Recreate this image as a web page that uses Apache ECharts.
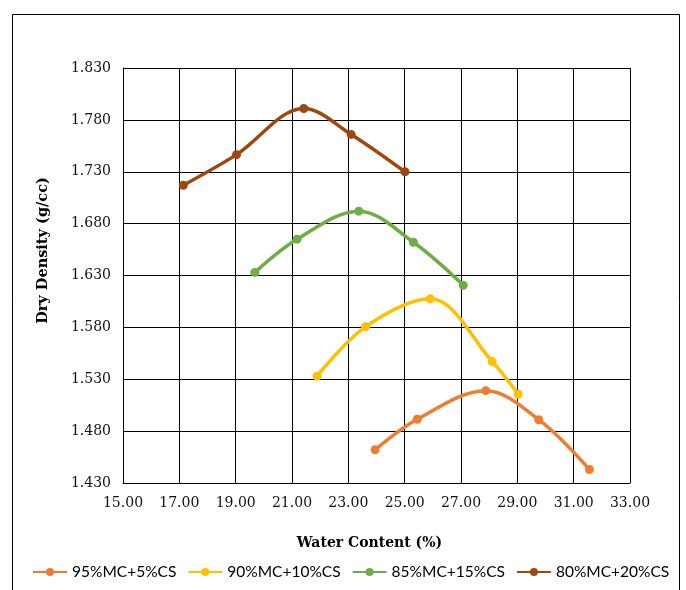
<!DOCTYPE html>
<html>
<head>
<meta charset="utf-8">
<script src="https://cdn.jsdelivr.net/npm/echarts@6/dist/echarts.min.js"></script>
<style>html,body{margin:0;padding:0;background:#fff}#c{width:686px;height:590px}</style>
</head>
<body>
<div id="c"></div>
<script>
const seriesNames = ['95%MC+5%CS', '90%MC+10%CS', '85%MC+15%CS', '80%MC+20%CS'];
const mc95x = [23.95, 25.45, 27.88, 29.76, 31.56];
const mc95y = [1.462, 1.4915, 1.519, 1.491, 1.443];
const mc90x = [21.89, 23.61, 25.91, 28.11, 29.03];
const mc90y = [1.533, 1.5805, 1.6075, 1.547, 1.5155];
const mc85x = [19.68, 21.18, 23.37, 25.31, 27.08];
const mc85y = [1.633, 1.665, 1.692, 1.662, 1.6206];
const mc80x = [17.14, 19.03, 21.42, 23.10, 25.01];
const mc80y = [1.717, 1.7465, 1.791, 1.766, 1.730];
const colors = ['#ED7D31', '#FFC000', '#70AD47', '#9E480E'];

const xs = [mc95x, mc90x, mc85x, mc80x];
const ys = [mc95y, mc90y, mc85y, mc80y];

const chart = echarts.init(document.getElementById('c'));
chart.setOption({
  animation: false,
  graphic: [{
    type: 'rect', shape: {x: 12.5, y: 14.5, width: 667, height: 600},
    style: {fill: 'none', stroke: '#000', lineWidth: 1}, silent: true, z: -10
  }],
  grid: {left: 123, right: 56, top: 68, bottom: 107},
  xAxis: {
    type: 'value', min: 15, max: 33, interval: 2,
    name: 'Water Content (%)', nameLocation: 'middle', nameGap: 53,
    nameTextStyle: {fontFamily: 'DejaVu Serif', fontWeight: 'bold', fontSize: 14, color: '#000', padding: [0, 14, 0, 0]},
    axisLine: {show: true, lineStyle: {color: '#000', width: 1}},
    axisTick: {show: false},
    splitLine: {show: true, lineStyle: {color: '#000', width: 1}},
    axisLabel: {color: '#111', fontFamily: 'DejaVu Serif', fontSize: 14, margin: 13,
      formatter: v => v.toFixed(2)}
  },
  yAxis: {
    type: 'value', min: 1.43, max: 1.83, interval: 0.05,
    name: 'Dry Density (g/cc)', nameLocation: 'middle', nameGap: 72,
    nameTextStyle: {fontFamily: 'DejaVu Serif', fontWeight: 'bold', fontSize: 14.5, color: '#000', padding: [0, 0, 0, 50]},
    axisLine: {show: true, lineStyle: {color: '#000', width: 1}},
    axisTick: {show: false},
    splitLine: {show: true, lineStyle: {color: '#000', width: 1}},
    axisLabel: {color: '#111', fontFamily: 'DejaVu Serif', fontSize: 14, margin: 12,
      formatter: v => v.toFixed(3)}
  },
  legend: {
    bottom: 5, left: 27, itemWidth: 34, itemHeight: 10, itemGap: 11,
    textStyle: {fontFamily: 'Lato', fontSize: 15.5, color: '#000'},
    data: seriesNames
  },
  series: seriesNames.map((n, i) => ({
    name: n, type: 'line', smooth: 0.35,
    data: xs[i].map((x, j) => [x, ys[i][j]]),
    symbol: 'circle', symbolSize: 9,
    lineStyle: {width: 3.5, color: colors[i]},
    itemStyle: {color: colors[i]}
  }))
});
</script>
</body>
</html>
